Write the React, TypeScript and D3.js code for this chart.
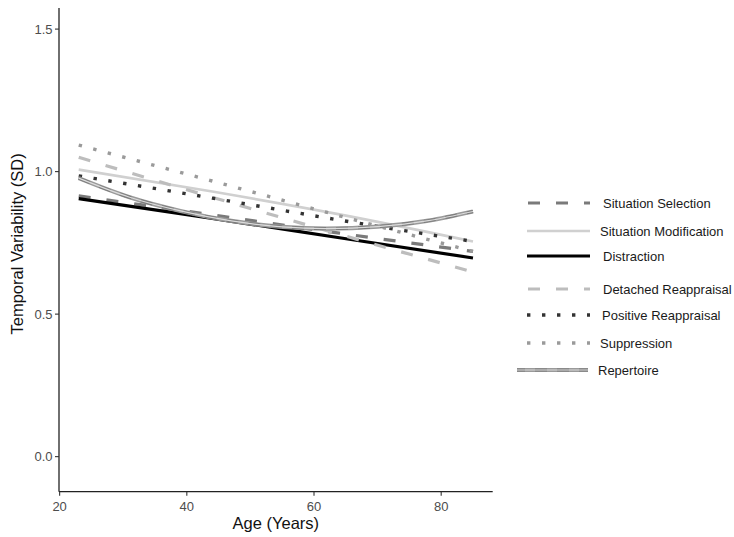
import React from "react";
import * as d3 from "d3";

const ages = [23, 44, 64, 85];
const situationSelection = [0.915, 0.848, 0.784, 0.72];
const situationModification = [1.007, 0.93, 0.85, 0.755];
const distraction = [0.905, 0.836, 0.768, 0.697];
const detachedReappraisal = [1.05, 0.91, 0.78, 0.648];
const positiveReappraisal = [0.985, 0.907, 0.83, 0.755];
const suppression = [1.093, 0.967, 0.845, 0.72];
const repertoireAges = [23, 31, 39, 47, 55, 62, 70, 78, 85];
const repertoire = [0.977, 0.91, 0.862, 0.827, 0.806, 0.8, 0.807, 0.828, 0.86];

const xTicks = [20, 40, 60, 80];
const yTicks = [0.0, 0.5, 1.0, 1.5];

type Style = { color: string; width: number; dash?: string; rep?: boolean };

const series: { name: string; x: number[]; y: number[]; style: Style; ly: number; tx: number }[] = [
  { name: "Situation Selection", x: ages, y: situationSelection, style: { color: "#7a7a7a", width: 3.2, dash: "12,16" }, ly: 203, tx: 603 },
  { name: "Situation Modification", x: ages, y: situationModification, style: { color: "#d0d0d0", width: 2.6 }, ly: 231, tx: 600 },
  { name: "Distraction", x: ages, y: distraction, style: { color: "#000000", width: 3.2 }, ly: 256, tx: 603 },
  { name: "Detached Reappraisal", x: ages, y: detachedReappraisal, style: { color: "#bdbdbd", width: 3.2, dash: "12,16" }, ly: 289, tx: 603 },
  { name: "Positive Reappraisal", x: ages, y: positiveReappraisal, style: { color: "#333333", width: 3.4, dash: "3.4,11.6" }, ly: 315, tx: 602 },
  { name: "Suppression", x: ages, y: suppression, style: { color: "#9a9a9a", width: 3.4, dash: "3.4,11.6" }, ly: 343, tx: 600 },
  { name: "Repertoire", x: repertoireAges, y: repertoire, style: { color: "#8c8c8c", width: 4, rep: true }, ly: 370, tx: 598 },
];

export default function App() {
  const W = 734, H = 537;
  const left = 59, right = 492.7, top = 8, bottom = 491.7;
  const x = d3.scaleLinear().domain([19.9, 88.1]).range([left, right]);
  const y = d3.scaleLinear().domain([-0.123, 1.574]).range([bottom, top]);
  const font = "Liberation Sans, Arial, sans-serif";

  const mkLine = (xs: number[], ys: number[]) =>
    d3.line<number>().x((_, i) => x(xs[i])).y((d) => y(d)).curve(d3.curveMonotoneX)(ys) || "";

  return (
    <svg width={W} height={H} style={{ position: "absolute", left: 0, top: 0, background: "#fff" }}>
      <rect width={W} height={H} fill="#fff" />
      {series.map((s) => {
        const d = mkLine(s.x, s.y);
        if (s.style.rep) {
          return (
            <g key={s.name}>
              <path d={d} fill="none" stroke="#9a9a9a" strokeWidth={4.2} />
              <path d={d} fill="none" stroke="#7a7a7a" strokeWidth={3} strokeDasharray="12,10" />
              <path d={d} fill="none" stroke="#dcdcdc" strokeWidth={1.2} />
            </g>
          );
        }
        return (
          <path key={s.name} d={d} fill="none" stroke={s.style.color} strokeWidth={s.style.width}
            strokeDasharray={s.style.dash} />
        );
      })}
      <line x1={left} x2={left} y1={top} y2={bottom} stroke="#222" strokeWidth={1.3} />
      <line x1={left} x2={right} y1={bottom} y2={bottom} stroke="#222" strokeWidth={1.3} />
      {yTicks.map((t) => (
        <g key={t}>
          <line x1={left - 4} x2={left} y1={y(t)} y2={y(t)} stroke="#333" strokeWidth={1.1} />
          <text x={left - 6.5} y={y(t)} dy="0.35em" textAnchor="end" fontFamily={font} fontSize={13} fill="#4d4d4d">
            {t.toFixed(1)}
          </text>
        </g>
      ))}
      {xTicks.map((t) => (
        <g key={t}>
          <line x1={x(t)} x2={x(t)} y1={bottom} y2={bottom + 4} stroke="#333" strokeWidth={1.1} />
          <text x={x(t)} y={bottom + 10} dy="0.72em" textAnchor="middle" fontFamily={font} fontSize={13} fill="#4d4d4d">
            {t}
          </text>
        </g>
      ))}
      <text x={(left + right) / 2} y={529} textAnchor="middle" fontFamily={font} fontSize={16.5} fill="#111">
        Age (Years)
      </text>
      <text transform={`translate(23, ${(top + bottom) / 2 - 6}) rotate(-90)`} textAnchor="middle" fontFamily={font}
        fontSize={16.5} fill="#111">
        Temporal Variability (SD)
      </text>
      {series.map((s) => {
        const x1 = s.style.rep ? 517 : 527;
        const x2 = s.style.rep ? 588 : 590;
        const d = `M${x1},${s.ly}L${x2},${s.ly}`;
        return (
          <g key={"lg" + s.name}>
            {s.style.rep ? (
              <g>
                <path d={d} stroke="#9a9a9a" strokeWidth={4.2} />
                <path d={d} stroke="#7a7a7a" strokeWidth={3} strokeDasharray="12,10" strokeDashoffset={-18} />
                <path d={d} stroke="#dcdcdc" strokeWidth={1.2} />
              </g>
            ) : (
              <path d={s.style.dash && s.style.dash.startsWith("12") ? `M${x1 + 1},${s.ly}L${x2},${s.ly}` : d}
                stroke={s.style.color} strokeWidth={s.style.width} strokeDasharray={s.style.dash} />
            )}
            <text x={s.tx} y={s.ly} dy="0.35em" fontFamily={font} fontSize={13} fill="#1a1a1a">
              {s.name}
            </text>
          </g>
        );
      })}
    </svg>
  );
}
